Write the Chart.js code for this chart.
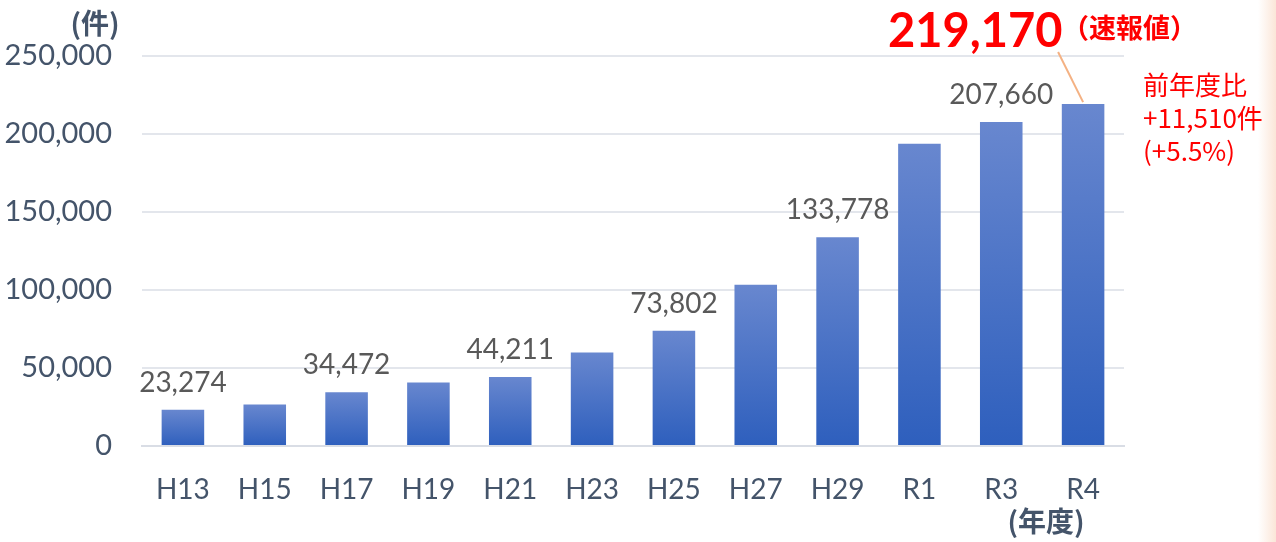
<!DOCTYPE html>
<html>
<head>
<meta charset="utf-8">
<script src="https://cdn.jsdelivr.net/npm/chart.js@4.4.0/dist/chart.umd.min.js"></script>
<style>
  html, body { margin: 0; padding: 0; }
  body { width: 1276px; height: 542px; background: linear-gradient(to right, #ffffff 1258px, #fbe6d8 1276px); }
  #wrap { width: 1276px; height: 542px; position: relative; }
</style>
</head>
<body>
<div id="wrap"><canvas id="myCanvas" width="1276" height="542"></canvas></div>
<script>
// 年度ごとの件数
const years = ['H13', 'H15', 'H17', 'H19', 'H21', 'H23', 'H25', 'H27', 'H29', 'R1', 'R3', 'R4'];
const counts = [23274, 26569, 34472, 40639, 44211, 59919, 73802, 103286, 133778, 193780, 207660, 219170];
// ラベルを出す年度
const labeledYears = ['H13', 'H17', 'H21', 'H25', 'H29', 'R3'];
const yTicks = [0, 50000, 100000, 150000, 200000, 250000];

const latestValue = '219,170';
const latestNote = '（速報値）';
const compareLines = ['前年度比', '+11,510件', '(+5.5%)'];

const FONT = "Lato, 'Noto Sans CJK JP', sans-serif";
const JP = "'Noto Sans CJK JP', Lato, sans-serif";
const axisColor = '#44546A';

function barFill(ctx) {
  const chart = ctx.chart;
  if (!chart.chartArea || ctx.type !== 'data') return '#4472C4';
  const y = chart.scales.y;
  const top = y.getPixelForValue(ctx.raw);
  const base = y.getPixelForValue(0);
  const g = chart.ctx.createLinearGradient(0, top, 0, base);
  g.addColorStop(0, '#6887cf');
  g.addColorStop(1, '#2e5fbd');
  return g;
}

const extras = {
  id: 'extras',
  afterDatasetsDraw(chart) {
    const c = chart.ctx;
    const meta = chart.getDatasetMeta(0);
    c.save();
    // bar labels
    c.font = '28px ' + FONT;
    c.fillStyle = '#595959';
    c.textAlign = 'center';
    c.textBaseline = 'bottom';
    meta.data.forEach((bar, i) => {
      if (labeledYears.includes(years[i])) {
        c.fillText(counts[i].toLocaleString('en-US'), bar.x, bar.y - 13);
      }
    });
    // axis titles
    c.fillStyle = axisColor;
    c.font = 'bold 28px ' + JP;
    c.textBaseline = 'middle';
    c.fillText('(件)', 95, 23);
    c.fillText('(年度)', 1046, 521);

    // latest value callout
    const last = meta.data[meta.data.length - 1];
    c.strokeStyle = '#f4b183';
    c.lineWidth = 2;
    c.beginPath();
    c.moveTo(last.x - 25, 52);
    c.lineTo(last.x, last.y - 2);
    c.stroke();

    c.fillStyle = '#ff0000';
    c.textAlign = 'left';
    c.textBaseline = 'alphabetic';
    c.font = 'bold 47px ' + FONT;
    c.fillText(latestValue, 888, 47);
    c.font = 'bold 27px ' + JP;
    c.fillText(latestNote, 1062, 38);

    c.font = '26px ' + JP;
    c.textBaseline = 'middle';
    compareLines.forEach((t, i) => c.fillText(t, 1143, 85 + i * 33));
    c.restore();
  }
};

new Chart(document.getElementById('myCanvas'), {
  type: 'bar',
  data: {
    labels: years,
    datasets: [{
      data: counts,
      backgroundColor: barFill,
      barPercentage: 0.52,
      categoryPercentage: 1
    }]
  },
  options: {
    responsive: false,
    animation: false,
    layout: { padding: { top: 56, right: 152, bottom: 0, left: 0 } },
    plugins: { legend: { display: false }, tooltip: { enabled: false } },
    scales: {
      x: {
        grid: { display: false },
        border: { color: '#d9dde5', width: 2 },
        ticks: { color: axisColor, font: { size: 28, family: FONT }, padding: 19 },
        afterFit: s => { s.height = 96; }
      },
      y: {
        min: 0,
        max: 250000,
        afterBuildTicks: s => { s.ticks = yTicks.map(v => ({ value: v })); },
        grid: { color: '#e3e6ec', lineWidth: 2, drawTicks: false },
        border: { display: false },
        ticks: {
          color: axisColor,
          font: { size: 29, family: FONT },
          padding: 30,
          callback: v => v.toLocaleString('en-US')
        },
        afterFit: s => { s.width = 142; }
      }
    }
  },
  plugins: [extras]
});
</script>
</body>
</html>
